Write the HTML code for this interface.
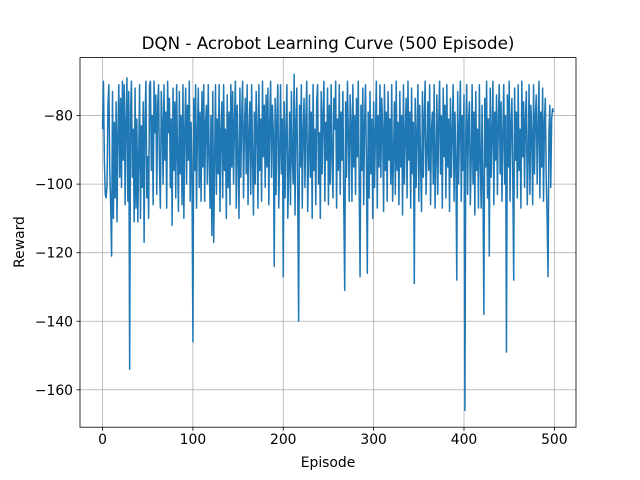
<!DOCTYPE html>
<html><head><meta charset="utf-8"><style>
body{margin:0;background:#fff;width:640px;height:480px;overflow:hidden}
svg{display:block;font-family:"DejaVu Sans","Liberation Sans",sans-serif}
</style></head><body>
<svg id="chart" width="640" height="480" xmlns="http://www.w3.org/2000/svg">
<rect width="640" height="480" fill="#fff"/>
<text x="328" y="49" text-anchor="middle" font-size="16.7">DQN - Acrobot Learning Curve (500 Episode)</text>
<text x="328" y="467" text-anchor="middle" font-size="13.9">Episode</text>
<text transform="translate(24,242) rotate(-90)" text-anchor="middle" font-size="13.9">Reward</text>
<g id="grid"></g><g id="series"></g><g id="ticks"></g>
<rect x="80" y="57.6" width="496" height="369.6" fill="none" stroke="#000" stroke-width="0.8"/>
</svg>
<script>
const xTicks=[0,100,200,300,400,500];
const yTicks=[-160,-140,-120,-100,-80];
const rewards=[
-84,-70,-93,-103,-104,-100,-77,-71,-96,-106,-121,-73,-110,-82,-104,-76,-111,-85,-71,-98,
-75,-101,-70,-93,-71,-106,-82,-69,-105,-73,-154,-79,-70,-98,-84,-111,-72,-107,-81,-111,
-93,-71,-110,-83,-101,-76,-117,-81,-70,-104,-92,-110,-71,-70,-96,-80,-106,-70,-85,-74,
-103,-77,-71,-95,-107,-73,-82,-100,-71,-93,-79,-107,-70,-85,-75,-101,-81,-112,-72,-96,
-76,-104,-71,-92,-108,-73,-97,-80,-106,-71,-110,-84,-72,-100,-77,-93,-70,-105,-82,-98,
-146,-75,-96,-71,-107,-85,-72,-101,-79,-105,-73,-95,-71,-105,-82,-77,-100,-71,-92,-107,
-80,-115,-73,-117,-93,-71,-103,-81,-97,-71,-108,-85,-76,-104,-71,-96,-84,-110,-74,-101,
-79,-106,-71,-95,-73,-100,-82,-70,-107,-77,-92,-110,-72,-98,-80,-70,-104,-84,-75,-97,
-71,-106,-85,-76,-103,-71,-93,-109,-79,-100,-73,-84,-107,-71,-96,-81,-105,-70,-92,-77,
-101,-74,-95,-72,-106,-82,-70,-98,-77,-85,-124,-75,-103,-80,-71,-107,-92,-71,-97,-81,
-127,-76,-104,-84,-71,-110,-96,-79,-106,-73,-93,-100,-68,-109,-82,-72,-103,-140,-77,-95,
-71,-107,-85,-75,-101,-81,-70,-108,-93,-74,-98,-79,-110,-71,-96,-84,-106,-76,-71,-100,
-85,-110,-73,-97,-80,-70,-105,-82,-93,-72,-106,-77,-100,-71,-92,-104,-75,-84,-70,-107,
-81,-96,-71,-103,-79,-93,-73,-107,-131,-76,-98,-70,-85,-105,-74,-82,-105,-71,-95,-80,
-103,-75,-92,-70,-100,-127,-77,-96,-72,-106,-82,-71,-93,-126,-79,-104,-73,-97,-81,-110,
-76,-101,-85,-70,-107,-80,-95,-71,-98,-75,-84,-108,-71,-96,-79,-105,-73,-93,-81,-100,
-71,-105,-92,-76,-103,-70,-96,-82,-106,-73,-95,-80,-109,-71,-100,-85,-75,-104,-70,-93,
-79,-107,-72,-97,-82,-129,-75,-101,-85,-71,-105,-77,-95,-108,-73,-98,-81,-70,-103,-92,
-76,-96,-71,-106,-84,-79,-100,-71,-107,-93,-74,-103,-82,-70,-97,-80,-107,-72,-92,-77,
-104,-71,-95,-81,-108,-75,-98,-85,-71,-105,-79,-93,-128,-73,-100,-84,-70,-105,-80,-96,
-74,-166,-85,-71,-103,-82,-76,-106,-93,-71,-100,-79,-109,-73,-96,-84,-107,-71,-92,-107,
-77,-101,-138,-75,-95,-70,-104,-81,-121,-72,-98,-85,-70,-106,-79,-93,-74,-103,-82,-71,
-97,-76,-105,-85,-71,-100,-80,-149,-74,-95,-70,-105,-82,-75,-98,-128,-72,-93,-79,-104,
-71,-96,-84,-107,-70,-92,-76,-101,-81,-73,-106,-93,-71,-103,-77,-85,-106,-71,-97,-80,
-74,-100,-84,-70,-104,-79,-95,-72,-105,-82,-75,-98,-110,-127,-85,-77,-101,-81,-78,-79
];
const L=80,R=576,T=57.6,B=427.2;
const n=rewards.length;
const xmin=-(n-1)*0.05, xmax=(n-1)*1.05;
let ymin=Math.min(...rewards), ymax=Math.max(...rewards);
const pad=(ymax-ymin)*0.05; ymin-=pad; ymax+=pad;
const sx=v=>L+(v-xmin)/(xmax-xmin)*(R-L);
const sy=v=>B-(v-ymin)/(ymax-ymin)*(B-T);
const NS="http://www.w3.org/2000/svg";
const grid=document.getElementById('grid'),ticks=document.getElementById('ticks'),series=document.getElementById('series');
function mk(tag,attrs,parent){const e=document.createElementNS(NS,tag);for(const k in attrs)e.setAttribute(k,attrs[k]);parent.appendChild(e);return e;}
xTicks.forEach(v=>{const x=sx(v);
 const g=mk('line',{x1:x,x2:x,y1:T,y2:B,stroke:'#b0b0b0','stroke-width':0.8},grid);
 
 
 mk('line',{x1:x,x2:x,y1:B,y2:B+3.5,stroke:'#000','stroke-width':0.8},ticks);
 const t=mk('text',{x:x,y:B+17,'text-anchor':'middle','font-size':13.9},ticks);t.textContent=v;
 
 
});
yTicks.forEach(v=>{const y=sy(v);
 const g=mk('line',{x1:L,x2:R,y1:y,y2:y,stroke:'#b0b0b0','stroke-width':0.8},grid);
 
 
 mk('line',{x1:L-3.5,x2:L,y1:y,y2:y,stroke:'#000','stroke-width':0.8},ticks);
 const t=mk('text',{x:L-7,y:y+5,'text-anchor':'end','font-size':13.9},ticks);t.textContent='\u2212'+Math.abs(v);
 
 
});
const pts=rewards.map((v,i)=>sx(i).toFixed(2)+','+sy(v).toFixed(2)).join(' ');
const line=mk('polyline',{points:pts,fill:'none',stroke:'#1f77b4','stroke-width':1.5,'stroke-linejoin':'round'},series);


</script>
</body></html>
